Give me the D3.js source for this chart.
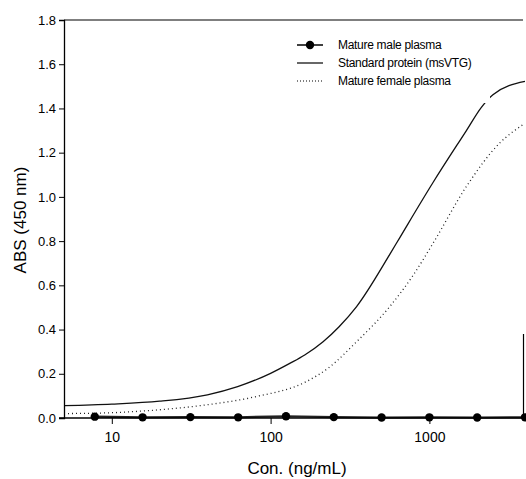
<!DOCTYPE html>
<html><head><meta charset="utf-8">
<script src="https://cdn.jsdelivr.net/npm/d3@7"></script>
<style>body{margin:0;background:#fff}svg{display:block}</style>
</head><body><svg id="c" width="526" height="479"></svg>
<script>
// Data
const maleConc = [7.8125, 15.625, 31.25, 62.5, 125, 250, 500, 1000, 2000, 4000];
const maleAbs  = [0.006, 0.003, 0.004, 0.003, 0.008, 0.004, 0.002, 0.003, 0.002, 0.003];
const stdConc = [5, 10, 20, 40, 62, 100, 132, 164, 214, 270, 348, 563, 650, 1054, 1710, 2125, 2512, 4000];
const stdAbs  = [0.056, 0.063, 0.076, 0.105, 0.142, 0.202, 0.247, 0.285, 0.345, 0.413, 0.504, 0.740, 0.815, 1.065, 1.300, 1.405, 1.462, 1.522];
const femConc = [5, 10, 19, 39, 80, 164, 230, 348, 563, 789, 1054, 1710, 2767, 3870];
const femAbs  = [0.020, 0.024, 0.036, 0.059, 0.096, 0.161, 0.225, 0.345, 0.504, 0.645, 0.790, 1.047, 1.243, 1.326];
const xTicks = [10, 100, 1000];
const yTicks = [0, 0.2, 0.4, 0.6, 0.8, 1.0, 1.2, 1.4, 1.6, 1.8];
const legendLabels = ["Mature male plasma", "Standard protein (msVTG)", "Mature female plasma"];

const svg = d3.select("#c");
const L = 64, R = 525, T = 20, B = 418;
const x = d3.scaleLog().domain([5, 4000]).range([L, R]);
const y = d3.scaleLinear().domain([0, 1.8]).range([B, T]);
const font = "'Liberation Sans', Arial, sans-serif";

const line = (cs, vs) => d3.line().x((d,i)=>x(cs[i])).y((d,i)=>y(vs[i])).curve(d3.curveMonotoneX)(cs);

// curves
svg.append("path").attr("d", line(stdConc, stdAbs)).attr("fill","none").attr("stroke","#111").attr("stroke-width",1.3);
svg.append("path").attr("d", line(femConc, femAbs)).attr("fill","none").attr("stroke","#222").attr("stroke-width",1.3).attr("stroke-dasharray","1,3");
svg.append("path").attr("d", d3.line().x((d,i)=>x(maleConc[i])).y((d,i)=>y(maleAbs[i]))(maleConc))
  .attr("fill","none").attr("stroke","#222").attr("stroke-width",2.2);
svg.selectAll("circle.m").data(maleConc).join("circle").attr("class","m")
  .attr("cx",d=>x(d)).attr("cy",(d,i)=>y(maleAbs[i])).attr("r",4.2).attr("fill","#000");

// legend background (masks curve as in reference)
svg.append("rect").attr("x",290).attr("y",30).attr("width",200).attr("height",73).attr("fill","#fff");
const lg = svg.append("g").attr("font-family", font).attr("font-size", 12).attr("fill","#000");
const rows = [45, 63, 81];
lg.append("line").attr("x1",297).attr("x2",323).attr("y1",rows[0]).attr("y2",rows[0]).attr("stroke","#000").attr("stroke-width",1.5);
lg.append("circle").attr("cx",310).attr("cy",rows[0]).attr("r",4.2).attr("fill","#000");
lg.append("line").attr("x1",297).attr("x2",323).attr("y1",rows[1]).attr("y2",rows[1]).attr("stroke","#000").attr("stroke-width",1.2);
lg.append("line").attr("x1",297).attr("x2",323).attr("y1",rows[2]).attr("y2",rows[2]).attr("stroke","#000").attr("stroke-width",1.2).attr("stroke-dasharray","1,2");
legendLabels.forEach((t,i)=>{
  lg.append("text").attr("x",338).attr("y",rows[i]).attr("dy","0.35em").attr("letter-spacing","-0.3").text(t);
});

// frame
svg.append("line").attr("x1",L).attr("x2",R-2).attr("y1",T).attr("y2",T).attr("stroke","#000").attr("stroke-width",1.2);
svg.append("line").attr("x1",R-1.5).attr("x2",R-1.5).attr("y1",y(0.38)).attr("y2",B).attr("stroke","#000").attr("stroke-width",1.2);

// axes
const ya = svg.append("g").attr("transform",`translate(${L},0)`)
  .call(d3.axisLeft(y).tickValues(yTicks).tickFormat(d3.format(".1f")).tickSize(5).tickPadding(3));
ya.select(".domain").attr("stroke-width",1.3);
ya.selectAll("text").attr("font-family",font).attr("font-size",13).attr("fill","#000");
const xa = svg.append("g").attr("transform",`translate(0,${B})`)
  .call(d3.axisBottom(x).tickValues(xTicks).tickFormat(d3.format("d")).tickSize(6).tickPadding(8));
xa.select(".domain").attr("stroke-width",1.3).attr("d",`M${L-5},0H${R}`);
xa.selectAll("text").attr("font-family",font).attr("font-size",14).attr("fill","#000");

svg.append("text").attr("x",297).attr("y",468).attr("dy","0.35em").attr("text-anchor","middle")
  .attr("font-family",font).attr("font-size",17).text("Con. (ng/mL)");
svg.append("text").attr("transform","translate(20,220) rotate(-90)").attr("dy","0.35em").attr("text-anchor","middle")
  .attr("font-family",font).attr("font-size",17).text("ABS (450 nm)");
</script></body></html>
